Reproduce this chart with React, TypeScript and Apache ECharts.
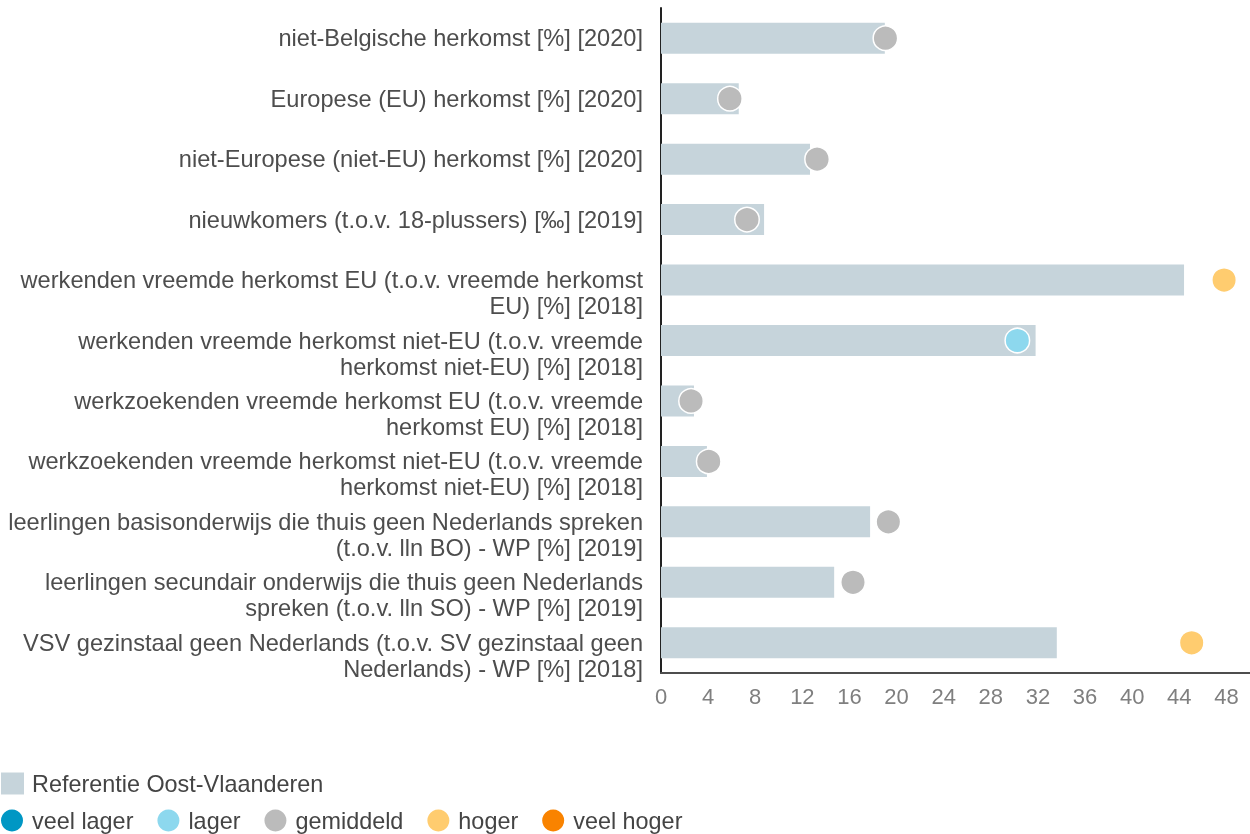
import React, { useEffect, useRef } from "react";
import * as echarts from "echarts";

const categories: string[] = [
  "niet-Belgische herkomst [%] [2020]",
  "Europese (EU) herkomst [%] [2020]",
  "niet-Europese (niet-EU) herkomst [%] [2020]",
  "nieuwkomers (t.o.v. 18-plussers) [‰] [2019]",
  "werkenden vreemde herkomst EU (t.o.v. vreemde herkomst\nEU) [%] [2018]",
  "werkenden vreemde herkomst niet-EU (t.o.v. vreemde\nherkomst niet-EU) [%] [2018]",
  "werkzoekenden vreemde herkomst EU (t.o.v. vreemde\nherkomst EU) [%] [2018]",
  "werkzoekenden vreemde herkomst niet-EU (t.o.v. vreemde\nherkomst niet-EU) [%] [2018]",
  "leerlingen basisonderwijs die thuis geen Nederlands spreken\n(t.o.v. lln BO) - WP [%] [2019]",
  "leerlingen secundair onderwijs die thuis geen Nederlands\nspreken (t.o.v. lln SO) - WP [%] [2019]",
  "VSV gezinstaal geen Nederlands (t.o.v. SV gezinstaal geen\nNederlands) - WP [%] [2018]",
];

// Reference Oost-Vlaanderen (bars)
const referenceValues: number[] = [19.0, 6.6, 12.65, 8.75, 44.4, 31.8, 2.8, 3.9, 17.75, 14.7, 33.6];

// Municipality values (dots)
const municipalValues: number[] = [19.05, 5.85, 13.25, 7.3, 47.8, 30.25, 2.55, 4.05, 19.3, 16.3, 45.05];

// Class of each municipality value
const valueClasses: string[] = [
  "gemiddeld", "gemiddeld", "gemiddeld", "gemiddeld", "hoger", "lager",
  "gemiddeld", "gemiddeld", "gemiddeld", "gemiddeld", "hoger",
];

const classNames: string[] = ["veel lager", "lager", "gemiddeld", "hoger", "veel hoger"];
const classColors: string[] = ["#0097c4", "#8dd8ee", "#bbbbbb", "#ffcc6f", "#f98300"];

const referenceName = "Referentie Oost-Vlaanderen";
const referenceColor = "#c6d4db";

const xMin = 0;
const xMax = 50;
const xInterval = 4;

const FONT = "'Liberation Sans', Arial, sans-serif";

export default function App() {
  const ref = useRef<HTMLDivElement>(null);

  useEffect(() => {
    if (!ref.current) return;
    const chart = echarts.init(ref.current, undefined, { renderer: "svg" });

    const scatterSeries = classNames.map((cls, ci) => ({
      name: cls,
      type: "scatter",
      symbol: "circle",
      symbolSize: 24.5,
      z: 3,
      itemStyle: { color: classColors[ci], borderColor: "#ffffff", borderWidth: 1.5, opacity: 1 },
      data: municipalValues
        .map((v, i) => (valueClasses[i] === cls ? [v, i] : null))
        .filter((d) => d !== null),
    }));

    chart.setOption({
      animation: false,
      textStyle: { fontFamily: FONT },
      grid: { left: 661, right: 0, top: 8, bottom: 161, containLabel: false },
      xAxis: {
        type: "value",
        min: xMin,
        max: xMax,
        interval: xInterval,
        splitLine: { show: false },
        axisTick: { show: false },
        axisLine: { show: true, lineStyle: { color: "#4d4d4d", width: 2 } },
        axisLabel: {
          showMaxLabel: false,
          color: "#7f7f7f",
          fontSize: 22,
          fontFamily: FONT,
          margin: 12,
        },
      },
      yAxis: {
        type: "category",
        inverse: true,
        data: categories,
        axisTick: { show: false },
        axisLine: { show: true, lineStyle: { color: "#222222", width: 2 } },
        splitLine: { show: false },
        axisLabel: {
          interval: 0,
          color: "#4d4d4d",
          fontSize: 23.6,
          lineHeight: 26,
          fontFamily: FONT,
          margin: 18,
          align: "right",
          formatter: (v: string) => (v.indexOf("\n") >= 0 ? "\n" + v : v),
        },
      },
      legend: [
        {
          data: [referenceName],
          left: 1,
          top: 772,
          padding: 0,
          icon: "rect",
          itemWidth: 23,
          itemHeight: 22,
          selectedMode: false,
          textStyle: { fontSize: 23.4, color: "#444444", fontFamily: FONT, lineHeight: 22, padding: [0, 0, 0, 3] },
        },
        {
          data: classNames,
          left: 1,
          top: 809,
          padding: 0,
          icon: "circle",
          itemWidth: 22,
          itemHeight: 22,
          itemGap: 24,
          selectedMode: false,
          itemStyle: { borderWidth: 0 },
          textStyle: { fontSize: 23.4, color: "#444444", fontFamily: FONT, lineHeight: 22, padding: [0, 0, 0, 4] },
        },
      ],
      series: [
        {
          name: referenceName,
          type: "bar",
          barWidth: 31,
          z: 2,
          itemStyle: { color: referenceColor },
          data: referenceValues,
        },
        ...scatterSeries,
      ],
    });

    return () => chart.dispose();
  }, []);

  return (
    <div
      ref={ref}
      style={{ position: "fixed", left: 0, top: 0, width: 1250, height: 834 }}
    />
  );
}
